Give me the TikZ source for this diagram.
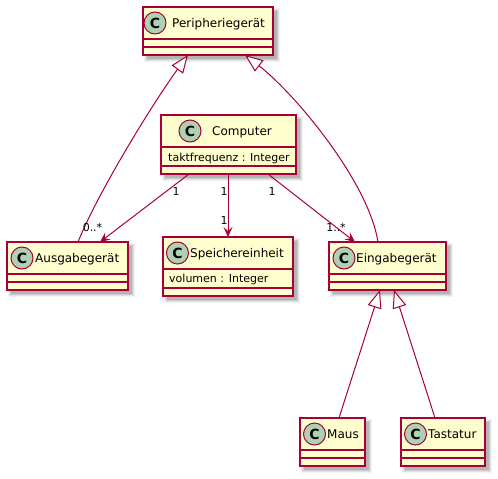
\documentclass[tikz,border=0pt]{standalone}
\usepackage{fontspec}
\setmainfont{DejaVu Sans}
\usetikzlibrary{arrows.meta}

\definecolor{umlborder}{HTML}{A80036}
\definecolor{umlfill}{HTML}{FEFECE}
\definecolor{umlspot}{HTML}{ADD1B2}

\tikzset{
  classbox/.style={draw=umlborder, fill=umlfill, line width=1.5pt, rectangle,
    inner sep=0pt, outer sep=0pt, anchor=north west},
  divider/.style={draw=umlborder, line width=1.5pt},
  spot/.style={circle, draw=umlborder, fill=umlspot, line width=1pt,
    minimum size=22pt, inner sep=0pt, font=\fontsize{14}{14}\selectfont\bfseries},
  classname/.style={anchor=base west, inner sep=0pt, font=\fontsize{12}{14}\selectfont},
  attr/.style={anchor=base west, inner sep=0pt, font=\fontsize{11}{13}\selectfont},
  mult/.style={anchor=base, inner sep=0pt, font=\fontsize{11}{13}\selectfont},
  assoc/.style={draw=umlborder, line width=1pt,
    -{Stealth[length=10pt, width=9pt, inset=4pt]}},
  inherit/.style={draw=umlborder, line width=1pt,
    -{Triangle[open, length=18pt, width=14pt, fill=white]}},
}

% #1 name, #2 left, #3 top, #4 width, #5 height, #6 spot x, #7 title x,
% #8 title, #9 height of the attribute compartment
\newcommand\umlclass[9]{%
  \foreach \sh/\op in {3/0.05, 2/0.07, 1/0.09, 0/0.12}
    \fill[black, opacity=\op] ({#2+4-\sh},{#3+4-\sh}) rectangle ({#2+#4+4+\sh},{#3+#5+4+\sh});
  \node[classbox, minimum width=#4pt, minimum height=#5pt] (#1) at (#2,#3) {};
  \draw[divider] ([yshift=-32pt]#1.north west) -- ([yshift=-32pt]#1.north east);
  \draw[divider] ([yshift=-32pt-#9pt]#1.north west) -- ([yshift=-32pt-#9pt]#1.north east);
  \node[spot] (#1-spot) at (#6,{#3+16}) {C};
  \node[classname] (#1-title) at (#7,{#3+20.4}) {#8};
}

\begin{document}
\begin{tikzpicture}[x=1pt, y=-1pt]
  \useasboundingbox (0,0) rectangle (498,479);

  \umlclass{peri}{143}{7}{130}{48}{155}{172}{Peripheriegerät}{8}
  \umlclass{comp}{161}{115}{135}{59}{190}{212}{Computer}{19}
  \umlclass{ausg}{7}{242}{121}{48}{22}{35}{Ausgabegerät}{8}
  \umlclass{speich}{163}{237}{130}{59}{177.5}{190}{Speichereinheit}{19}
  \umlclass{eing}{329}{242}{117}{48}{344}{356}{Eingabegerät}{8}
  \umlclass{maus}{300}{418}{65}{48}{314.5}{327}{Maus}{8}
  \umlclass{tast}{401}{418}{84}{48}{415.5}{428}{Tastatur}{8}

  \node[attr] (comp-attr) at (168,161) {taktfrequenz : Integer};
  \node[attr] (speich-attr) at (169,282.5) {volumen : Integer};

  % generalisations
  \draw[inherit] ([xshift=10.5pt]ausg.north) .. controls (98,192) and (155,100) .. ([xshift=-20pt]peri.south);
  \draw[inherit] ([xshift=-9.5pt]eing.north) .. controls (368,180) and (293,92) .. ([xshift=37pt]peri.south);
  \draw[inherit] ([xshift=6.5pt]maus.north) -- ([xshift=-7.5pt]eing.south);
  \draw[inherit] ([xshift=-8pt]tast.north) -- ([xshift=6.5pt]eing.south);

  % associations
  \draw[assoc] ([xshift=-39.5pt]comp.south) -- ([xshift=32.5pt]ausg.north);
  \draw[assoc] (speich.north |- comp.south) -- (speich.north);
  \draw[assoc] ([xshift=39.5pt]comp.south) -- ([xshift=-32.5pt]eing.north);

  % multiplicities
  \node[mult] (m-ausg-src) at (176,195.7) {1};
  \node[mult] (m-ausg-dst) at (92.5,231.7) {0..*};
  \node[mult] (m-speich-src) at (224,195.7) {1};
  \node[mult] (m-speich-dst) at (224,224) {1};
  \node[mult] (m-eing-src) at (272,195.7) {1};
  \node[mult] (m-eing-dst) at (336,231.7) {1..*};
\end{tikzpicture}
\end{document}
